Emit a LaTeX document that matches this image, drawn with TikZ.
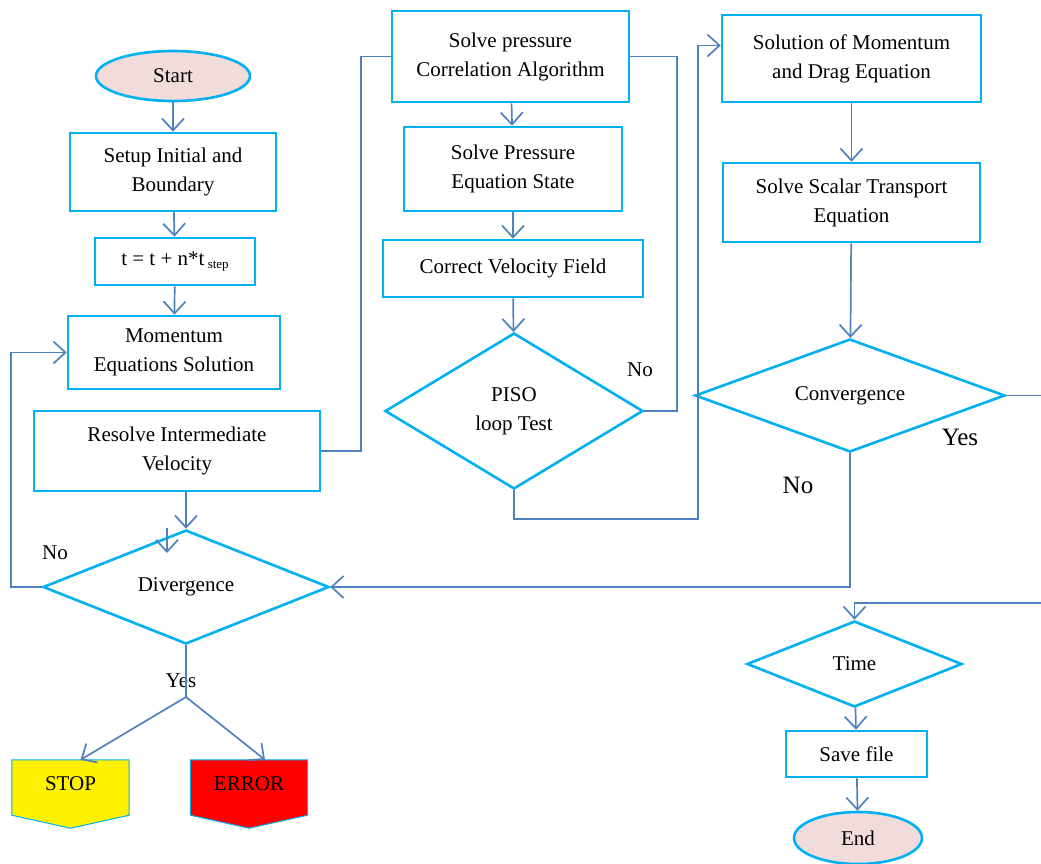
\documentclass[tikz,border=0pt]{standalone}
\usepackage{fontspec}
\setmainfont{Liberation Serif}
\usetikzlibrary{arrows.meta,positioning,shapes.geometric,backgrounds}
\definecolor{boxcyan}{HTML}{00B0F0}
\definecolor{linkblue}{HTML}{4F81BD}
\definecolor{termpink}{HTML}{F2DCDB}
\tikzset{
  %Define standard arrow tip
  >={Straight Barb[length=12pt,width=22pt]},
  %Define style for boxes
  box/.style={
    rectangle,
    draw=boxcyan, line width=2.6pt,
    align=center,
    inner sep=2pt},
  decision/.style={
    diamond,
    draw=boxcyan, line width=2.6pt,
    align=center,
    inner sep=0pt},
  terminal/.style={
    ellipse,
    draw=boxcyan, line width=2.6pt,
    fill=termpink},
  flag/.style={
    rectangle,
    minimum width=117pt,
    minimum height=47pt},
  % Define connector style
  link/.style={
    draw=linkblue,
    line width=1.7pt}
}

\begin{document}
\begin{tikzpicture}[x=1pt,y=-1pt,font=\fontsize{21}{29}\selectfont]
  \useasboundingbox (0,0) rectangle (1041,863);
  % left column
  \node[terminal,minimum width=154pt,minimum height=50pt] (start) at (173,76) {Start};
  \node[box,minimum width=206pt,minimum height=78pt] (setup) at (173,172) {Setup Initial and\\Boundary};
  \node[box,minimum width=160pt,minimum height=47pt] (tstep) at (175,261.5)
    {t = t + n*t\raisebox{-3pt}{\fontsize{13}{13}\selectfont\ step}};
  \node[box,minimum width=212pt,minimum height=73pt] (momentum) at (174,352.5) {Momentum\\Equations Solution};
  \node[box,minimum width=286pt,minimum height=80pt] (resolve) at (177,451) {Resolve Intermediate\\Velocity};
  \node[decision,aspect=2.5,minimum width=286pt,minimum height=114pt] (diverge) at (186,587) {Divergence};
  \node[flag] (stop) at (70.5,783.5) {STOP};
  \node[flag] (error) at (249,783.5) {ERROR};
  \begin{scope}[on background layer]
    \filldraw[draw=boxcyan,fill=yellow,line width=1pt] (stop.north west) -- (stop.north east)
      -- ([yshift=-8pt]stop.south east) -- ([yshift=-21pt]stop.south) -- ([yshift=-8pt]stop.south west) -- cycle;
    \filldraw[draw=boxcyan,fill=red,line width=1pt] (error.north west) -- (error.north east)
      -- ([yshift=-8pt]error.south east) -- ([yshift=-21pt]error.south) -- ([yshift=-8pt]error.south west) -- cycle;
  \end{scope}
  % middle column
  \node[box,minimum width=237pt,minimum height=91pt] (pressure) at (510.5,56.5) {Solve pressure\\Correlation Algorithm};
  \node[box,minimum width=218pt,minimum height=84pt] (pstate) at (513,169) {Solve Pressure\\Equation State};
  \node[box,minimum width=260pt,minimum height=57pt] (velocity) at (513,268.5) {Correct Velocity Field};
  \node[decision,aspect=1.65,minimum width=258pt,minimum height=156pt] (piso) at (514,411) {PISO\\loop Test};
  % right column
  \node[box,minimum width=259pt,minimum height=87pt] (dragbox) at (851.5,58.5) {Solution of Momentum\\and Drag Equation};
  \node[box,minimum width=257pt,minimum height=79pt] (scalar) at (851.5,202.5) {Solve Scalar Transport\\Equation};
  \node[decision,aspect=2.74,minimum width=310pt,minimum height=113pt] (converge) at (850,395.5) {Convergence};
  \node[decision,aspect=2.5,minimum width=215pt,minimum height=86pt] (time) at (854.5,664) {Time};
  \node[box,minimum width=141pt,minimum height=46pt] (save) at (856.5,754) {Save file};
  \node[terminal,minimum width=128pt,minimum height=52pt] (end) at (858,838) {End};
  % labels
  \node (divno) at (55,553) {No};
  \node (divyes) at (181,681) {Yes};
  \node (pisono) at (640,370) {No};
  \node[font=\fontsize{25}{29}\selectfont] (convyes) at (960,437) {Yes};
  \node[font=\fontsize{25}{29}\selectfont] (convno) at (798,485) {No};
  \coordinate (fork) at (186,697);
  \coordinate (stub) at (167,528);
  \coordinate (rimtop) at (1041,395.5);
  \coordinate (rimlow) at (1041,603);
  % connectors
  \path[every edge/.append style={link,->}]
    (start) edge (setup)
    (setup) edge (tstep)
    (tstep) edge (momentum)
    (pressure) edge (pstate)
    (pstate) edge (velocity)
    (velocity) edge (piso)
    (dragbox) edge (scalar)
    (scalar) edge (converge)
    (time) edge (save)
    (save) edge (end)
    (fork) edge ([xshift=10pt]stop.north)
    (fork) edge ([xshift=16pt]error.north);
  \draw[link,->] (resolve.south -| diverge.north) -- (diverge.north);
  \draw[link,->] (stub) -- ++(0,25);
  \draw[link] (diverge.south) -- (fork);
  \draw[link,->] (diverge.west) -- ++(-31,0) |- (momentum.west);
  \draw[link] (resolve.east) -- ++(40,0) |- (pressure.west);
  \draw[link] (piso.east) -- ++(33,0) |- (pressure.east);
  \draw[link,->] (piso.south) -- ++(0,29) -- ++(184,0) |- ([yshift=13pt]dragbox.west);
  \draw[link,->] (converge.south) |- (diverge.east);
  \draw[link] (converge.east) -- (rimtop);
  \draw[link,->] (rimlow) -| (time.north);
\end{tikzpicture}
\end{document}
